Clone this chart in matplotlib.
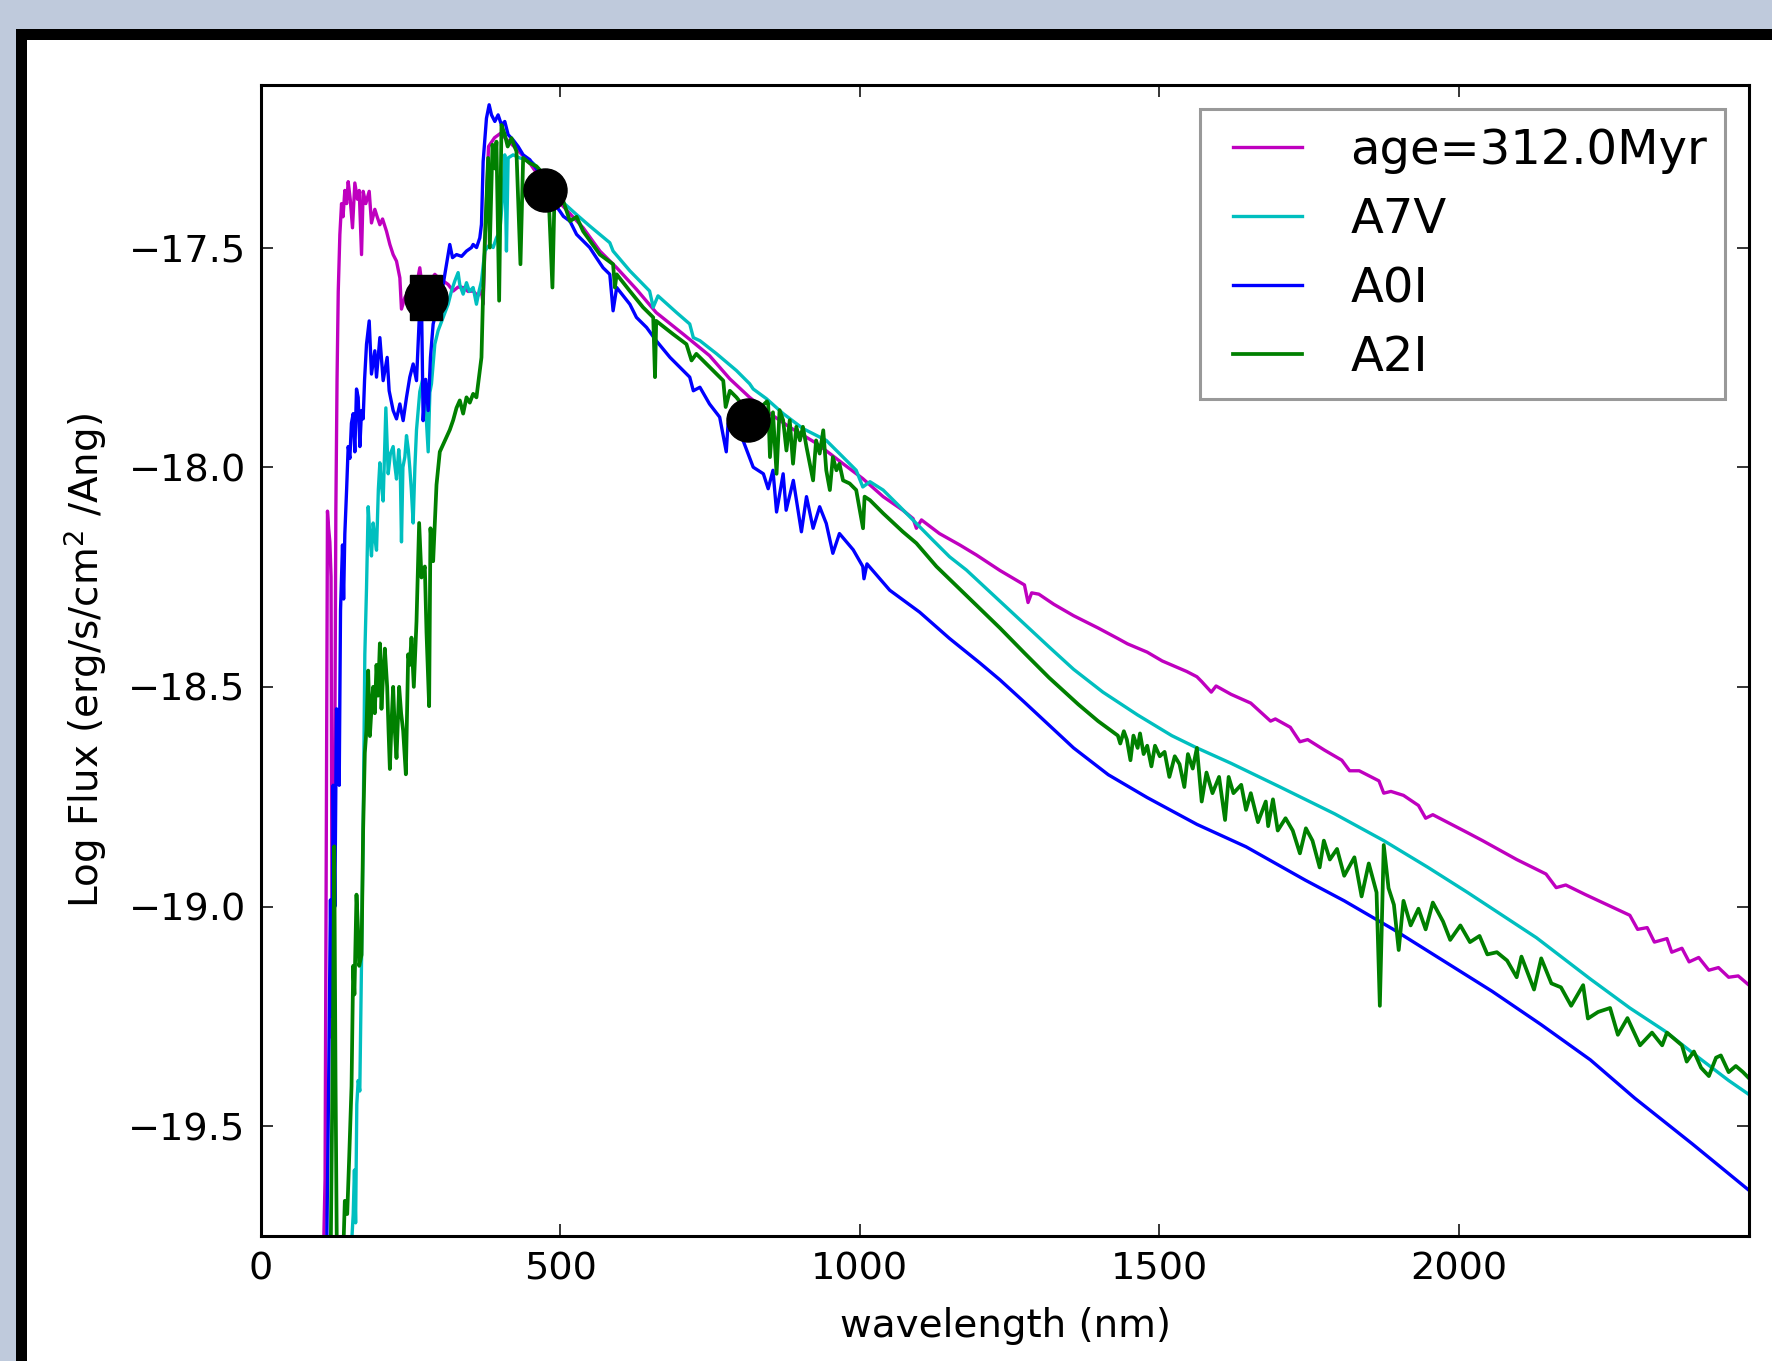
import matplotlib
matplotlib.use('Agg')
import matplotlib.pyplot as plt
from matplotlib.patches import Rectangle
from matplotlib.lines import Line2D
from matplotlib.legend_handler import HandlerLine2D

# model spectrum (age=312.0Myr)
wl_age = [105, 107, 111, 113, 115, 117, 119, 122, 125, 127, 129, 131.7, 134.5, 137, 140, 143, 145.6, 149,
          152.8, 156.7, 161, 164, 167.9, 170.6, 175, 180.7, 184.5, 190.1, 194, 198.5, 203, 209.6, 215.2,
          220.7, 226.3, 231.9, 234.6, 240.2, 246, 252, 258, 265.2, 270, 280, 290.3, 297, 304.2, 312.5,
          320.9, 329, 337.6, 346, 354.3, 362, 368.2, 371, 375, 380, 390, 400, 415, 430, 450, 470, 499,
          538, 566, 594, 627, 660, 705, 749, 783, 816, 850, 883, 928, 972, 1005, 1039, 1072, 1089, 1094.5,
          1103, 1133, 1167, 1195, 1234, 1275, 1281, 1287, 1299, 1324, 1357, 1398, 1431, 1447, 1480, 1505,
          1546, 1563, 1571, 1587, 1595, 1620, 1653, 1686, 1694, 1719, 1735, 1748, 1776, 1805, 1818, 1834,
          1867, 1875, 1887, 1908, 1933, 1945, 1957, 2015, 2040, 2097, 2146, 2163, 2179, 2212, 2286, 2299,
          2315, 2327, 2348, 2356, 2373, 2385, 2401, 2418, 2434, 2451, 2467, 2485]
flux_age = [-19.75, -19.62, -18.10, -18.14, -18.17, -18.25, -19.30, -19.05, -18.10, -17.80, -17.60, -17.47,
            -17.40, -17.43, -17.37, -17.40, -17.35, -17.39, -17.455, -17.353, -17.39, -17.37, -17.516,
            -17.372, -17.40, -17.372, -17.444, -17.413, -17.43, -17.448, -17.435, -17.463, -17.493, -17.516,
            -17.531, -17.569, -17.640, -17.614, -17.60, -17.62, -17.60, -17.546, -17.60, -17.58, -17.561,
            -17.57, -17.576, -17.584, -17.599, -17.59, -17.591, -17.60, -17.599, -17.61, -17.599, -17.629,
            -17.45, -17.27, -17.25, -17.24, -17.26, -17.28, -17.31, -17.35, -17.398, -17.455, -17.508,
            -17.546, -17.595, -17.648, -17.697, -17.746, -17.799, -17.841, -17.878, -17.909, -17.946,
            -17.992, -18.026, -18.067, -18.098, -18.117, -18.139, -18.120, -18.151, -18.177, -18.200,
            -18.235, -18.268, -18.308, -18.286, -18.289, -18.312, -18.338, -18.366, -18.390, -18.402,
            -18.421, -18.441, -18.465, -18.477, -18.488, -18.512, -18.498, -18.517, -18.537, -18.578,
            -18.573, -18.592, -18.625, -18.620, -18.644, -18.667, -18.691, -18.691, -18.714, -18.742,
            -18.738, -18.747, -18.770, -18.799, -18.791, -18.832, -18.850, -18.893, -18.926, -18.957,
            -18.951, -18.973, -19.020, -19.052, -19.048, -19.081, -19.073, -19.104, -19.095, -19.126,
            -19.116, -19.145, -19.139, -19.161, -19.158, -19.179]

# A7V
wl_a7v = [152, 154, 156, 158, 160, 162.3, 165, 167.9, 170.6, 173.4, 176.2, 179, 181.5, 184.5, 187.3, 190,
          192.9, 196, 198.5, 201, 204, 208.5, 212.4, 216, 220.7, 223, 226.3, 230, 232.5, 234.6, 237, 240.2,
          243, 246, 248.5, 251, 254.1, 257, 259.7, 265.2, 270, 274, 279.2, 282, 284.7, 290.3, 295.8, 304.2,
          312.5, 318.1, 323.7, 329.2, 332, 337.6, 343.2, 348, 354.3, 359.8, 364, 368.2, 373.7, 382.1, 387.7,
          393.2, 398.8, 404.4, 407.1, 409.9, 412.7, 421, 432.2, 443.3, 454.4, 470, 485, 505, 527, 549,
          582.5, 588, 616, 649, 655, 663, 694, 716, 722, 733, 761, 794, 816, 822, 844, 872, 905, 944, 972,
          994, 1005, 1017, 1039, 1067, 1094.5, 1122, 1150, 1178, 1234, 1275, 1316, 1357, 1406, 1464, 1521,
          1563, 1620, 1702, 1793, 1875, 1949, 2015, 2130, 2220, 2286, 2344, 2401, 2451, 2485]
flux_a7v = [-19.75, -19.70, -19.60, -19.72, -19.45, -19.396, -19.42, -19.123, -18.824, -18.426, -18.276,
            -18.090, -18.15, -18.202, -18.127, -18.16, -18.189, -18.05, -17.990, -18.04, -18.077, -17.865,
            -18.015, -17.97, -17.953, -17.99, -18.027, -17.96, -18.00, -18.170, -18.00, -17.977, -17.928,
            -17.96, -18.002, -18.05, -18.127, -18.00, -17.915, -17.828, -17.80, -17.84, -17.965, -17.83,
            -17.810, -17.720, -17.689, -17.659, -17.629, -17.599, -17.576, -17.557, -17.585, -17.606,
            -17.580, -17.60, -17.591, -17.629, -17.60, -17.576, -17.508, -17.493, -17.500, -17.478,
            -17.463, -17.372, -17.289, -17.508, -17.296, -17.289, -17.296, -17.300, -17.308, -17.33,
            -17.36, -17.398, -17.425, -17.451, -17.489, -17.508, -17.553, -17.599, -17.636, -17.610,
            -17.648, -17.674, -17.705, -17.712, -17.742, -17.780, -17.810, -17.822, -17.844, -17.878,
            -17.912, -17.939, -17.977, -18.007, -18.045, -18.033, -18.052, -18.090, -18.128, -18.166,
            -18.204, -18.234, -18.305, -18.357, -18.409, -18.460, -18.512, -18.564, -18.611, -18.639,
            -18.674, -18.728, -18.789, -18.850, -18.911, -18.968, -19.071, -19.165, -19.231, -19.283,
            -19.344, -19.396, -19.428]

# A0I
wl_a0i = [110, 113, 116, 118, 120.5, 123.3, 126.1, 128.9, 130.6, 132.8, 136.1, 138, 140, 143, 145.6, 148.4,
          151, 154, 156.7, 159.5, 162.3, 165.1, 167.9, 170.6, 173, 176.2, 180.7, 184.5, 190.1, 192.9, 198.5,
          204, 210.7, 214, 220.7, 226.3, 231.9, 237.4, 243, 248.5, 254.1, 259.7, 264.1, 268, 270.8, 275,
          279.2, 283, 287.5, 293.1, 304.2, 309.8, 315.3, 319.8, 326.5, 335, 343.2, 351.5, 354.3, 360, 365.4,
          368.2, 371, 376.5, 381, 384.9, 390.5, 396, 401.6, 407.1, 412.7, 421, 429.4, 437.8, 448.9, 465,
          480, 490, 499, 505, 516, 527, 549, 560, 571.3, 582.5, 588, 594, 616, 627, 644, 660, 683, 705, 716,
          722, 733, 749, 766, 777, 780, 805, 822, 839, 847, 855, 861, 872, 877, 889, 902.5, 911, 922, 933,
          944, 955, 966, 989, 1005, 1007, 1012, 1050, 1100, 1150, 1200, 1234, 1275, 1316, 1357, 1415, 1480,
          1563, 1645, 1744, 1809, 1891, 1974, 2056, 2138, 2220, 2294, 2390, 2485]
flux_a0i = [-19.75, -19.40, -18.985, -19.25, -18.724, -19.00, -18.550, -18.60, -18.724, -18.326, -18.177,
            -18.30, -18.152, -18.05, -17.953, -17.98, -17.90, -17.878, -17.965, -17.822, -17.841, -17.953,
            -17.871, -17.890, -17.80, -17.720, -17.667, -17.788, -17.735, -17.795, -17.705, -17.803,
            -17.750, -17.826, -17.871, -17.890, -17.856, -17.894, -17.841, -17.795, -17.765, -17.803,
            -17.667, -17.62, -17.894, -17.80, -17.871, -17.75, -17.674, -17.644, -17.584, -17.538, -17.493,
            -17.523, -17.516, -17.52, -17.508, -17.500, -17.493, -17.50, -17.478, -17.447, -17.304, -17.206,
            -17.175, -17.198, -17.213, -17.198, -17.221, -17.213, -17.243, -17.255, -17.270, -17.289,
            -17.300, -17.33, -17.37, -17.40, -17.417, -17.429, -17.440, -17.470, -17.500, -17.523, -17.546,
            -17.561, -17.644, -17.591, -17.629, -17.659, -17.682, -17.712, -17.750, -17.780, -17.795,
            -17.826, -17.818, -17.856, -17.886, -17.965, -17.901, -17.939, -18.000, -18.015, -18.049,
            -18.007, -18.102, -18.015, -18.098, -18.030, -18.147, -18.067, -18.139, -18.090, -18.128,
            -18.196, -18.151, -18.188, -18.226, -18.254, -18.22, -18.28, -18.33, -18.39, -18.445, -18.484,
            -18.535, -18.587, -18.639, -18.700, -18.752, -18.813, -18.864, -18.940, -18.987, -19.052,
            -19.123, -19.193, -19.269, -19.349, -19.436, -19.54, -19.646]

# A2I
wl_a2i = [116, 120, 122.3, 124.5, 127, 136, 140, 144, 147.3, 151.2, 154, 156, 159.5, 162, 164, 167.9, 170.6,
          173.4, 176, 179, 181.8, 184.5, 187.3, 190, 192.9, 195.5, 198.5, 201.2, 204, 206.8, 210.7, 213,
          215.2, 218, 220.7, 223.5, 226.3, 228.5, 230.7, 234, 237.4, 241.9, 245.8, 248.5, 251.3, 255.2,
          259.7, 264.1, 268, 273.6, 276.4, 280.8, 283, 287.5, 293.1, 298.6, 307, 315.3, 320.9, 326.5, 332,
          337.6, 343.2, 348.7, 354.3, 359.8, 362.6, 368.2, 371, 373.8, 379.3, 382.1, 386.6, 390.5, 393.2,
          397.7, 401.6, 407.1, 412, 418.3, 426.6, 433.3, 437.8, 448.9, 460, 470, 480, 486.7, 490, 499, 505,
          516, 527, 538, 566, 588, 591, 594, 616, 638, 655, 658, 660, 688, 710.5, 719, 727, 755, 772, 776,
          783, 794, 805, 816, 830, 845, 847, 850, 855, 861, 866, 872, 877.5, 883, 888.5, 894, 900, 905, 911,
          922, 927, 933, 939, 944, 950, 955, 961, 966, 972, 983, 994, 1005.4, 1008, 1017, 1039, 1072,
          1094.5, 1128, 1234, 1275, 1316, 1365, 1398, 1431, 1435, 1441, 1446, 1452, 1457, 1464, 1468, 1474,
          1480, 1487, 1493, 1501, 1509, 1517, 1526, 1534, 1542, 1548, 1556, 1563, 1571, 1579, 1589, 1600,
          1610, 1616, 1624, 1637, 1645, 1653, 1665, 1678, 1682, 1690, 1698, 1711, 1723, 1735, 1745, 1756,
          1768, 1775, 1785, 1797, 1809, 1826, 1838, 1850, 1863, 1868.5, 1875, 1883, 1892, 1900, 1908, 1920,
          1933, 1945, 1957, 1974, 1986, 2003, 2019, 2035, 2048, 2064, 2081, 2097, 2105, 2126, 2138, 2155,
          2171, 2188, 2208, 2216, 2233, 2253, 2266, 2282, 2303, 2323, 2340, 2348, 2373, 2381, 2393, 2405,
          2418, 2430, 2438, 2451, 2463, 2475, 2485]
flux_a2i = [-19.85, -19.30, -18.863, -19.40, -19.85, -19.85, -19.670, -19.70, -19.571, -19.409, -19.135,
            -19.20, -18.973, -19.05, -19.135, -19.110, -18.824, -18.650, -18.60, -18.463, -18.612, -18.55,
            -18.500, -18.56, -18.450, -18.52, -18.401, -18.550, -18.47, -18.413, -18.500, -18.60, -18.687,
            -18.58, -18.500, -18.60, -18.662, -18.58, -18.500, -18.56, -18.600, -18.699, -18.426, -18.45,
            -18.388, -18.500, -18.351, -18.127, -18.251, -18.226, -18.376, -18.544, -18.139, -18.214,
            -18.040, -17.965, -17.940, -17.915, -17.893, -17.865, -17.848, -17.878, -17.841, -17.853,
            -17.833, -17.841, -17.810, -17.750, -17.599, -17.485, -17.296, -17.500, -17.266, -17.32,
            -17.259, -17.621, -17.221, -17.243, -17.27, -17.251, -17.281, -17.538, -17.296, -17.308,
            -17.315, -17.33, -17.37, -17.591, -17.39, -17.40, -17.395, -17.440, -17.43, -17.463, -17.516,
            -17.538, -17.591, -17.561, -17.599, -17.636, -17.659, -17.795, -17.667, -17.697, -17.720,
            -17.757, -17.742, -17.780, -17.803, -17.863, -17.826, -17.841, -17.86, -17.87, -17.87, -17.85,
            -17.856, -17.977, -17.875, -18.015, -17.870, -17.893, -17.962, -17.893, -17.992, -17.908,
            -17.939, -17.908, -17.954, -18.030, -17.939, -17.969, -17.916, -18.007, -18.052, -17.977,
            -18.007, -17.992, -18.030, -18.037, -18.052, -18.139, -18.067, -18.075, -18.105, -18.147,
            -18.173, -18.226, -18.366, -18.423, -18.479, -18.540, -18.578, -18.611, -18.629, -18.601,
            -18.620, -18.667, -18.611, -18.639, -18.606, -18.653, -18.634, -18.681, -18.634, -18.658,
            -18.648, -18.705, -18.658, -18.676, -18.728, -18.653, -18.686, -18.639, -18.761, -18.695,
            -18.742, -18.705, -18.803, -18.705, -18.742, -18.723, -18.780, -18.742, -18.808, -18.761,
            -18.817, -18.756, -18.827, -18.799, -18.827, -18.879, -18.822, -18.850, -18.911, -18.850,
            -18.893, -18.869, -18.930, -18.888, -18.977, -18.902, -18.968, -19.226, -18.860, -18.958,
            -18.996, -19.099, -18.987, -19.043, -19.005, -19.052, -18.991, -19.034, -19.076, -19.043,
            -19.081, -19.067, -19.109, -19.104, -19.123, -19.161, -19.114, -19.189, -19.118, -19.175,
            -19.184, -19.226, -19.179, -19.255, -19.240, -19.231, -19.292, -19.254, -19.316, -19.287,
            -19.316, -19.287, -19.316, -19.353, -19.330, -19.367, -19.386, -19.344, -19.339, -19.377,
            -19.363, -19.377, -19.391]

# photometry points
phot_sq_wl = [276, 276]
phot_sq_flux = [-17.600, -17.628]
phot_wl = [276, 475, 813]
phot_flux = [-17.614, -17.369, -17.892]

W, H = 1772, 1361
fig = plt.figure(figsize=(W / 100, H / 100), dpi=100)
fig.patch.set_facecolor('#bfcadc')
# window frame around the plot
fig.add_artist(Rectangle((16 / W, 0), 1, 1 - 29 / H, transform=fig.transFigure,
                         facecolor='black', edgecolor='none', zorder=-10))
fig.add_artist(Rectangle((26.5 / W, 0), 1, 1 - 39.5 / H, transform=fig.transFigure,
                         facecolor='white', edgecolor='none', zorder=-9))

ax = fig.add_axes([261 / W, (H - 1236) / H, (1749 - 261) / W, (1236 - 85) / H])
ax.plot(wl_age, flux_age, color='m', lw=2.4, label='age=312.0Myr')
ax.plot(wl_a7v, flux_a7v, color='c', lw=2.4, label='A7V')
ax.plot(wl_a0i, flux_a0i, color='b', lw=2.4, label='A0I')
ax.plot(wl_a2i, flux_a2i, color='g', lw=2.7, label='A2I')
ax.plot(phot_sq_wl, phot_sq_flux, 's', color='k', ms=23.5, mec='k', ls='none')
ax.plot(phot_wl, phot_flux, 'o', color='k', ms=31, mec='k', ls='none')

ax.set_xlim(0, 2485)
ax.set_ylim(-19.75, -17.13)
ax.set_xticks([0, 500, 1000, 1500, 2000])
ax.set_yticks([-17.5, -18.0, -18.5, -19.0, -19.5])
ax.tick_params(direction='in', length=8.5, width=1.1, top=True, right=True,
               labelsize=27.5, pad=11)
for sp in ax.spines.values():
    sp.set_linewidth(2.2)

ax.set_xlabel('wavelength (nm)', fontsize=28, labelpad=14)
ax.set_ylabel('Log Flux (erg/s/cm$^2$ /Ang)', fontsize=28, labelpad=14)

leg = ax.legend(loc='upper right', fontsize=34.6, handlelength=1.75, handletextpad=1.0,
                labelspacing=0.46, borderpad=0.37, borderaxespad=0.5, fancybox=False,
                handler_map={Line2D: HandlerLine2D(xpad=0.3)})
leg.get_frame().set_edgecolor('0.5')
leg.get_frame().set_linewidth(2.2)

fig.savefig('out.png', dpi=100, facecolor=fig.get_facecolor())
